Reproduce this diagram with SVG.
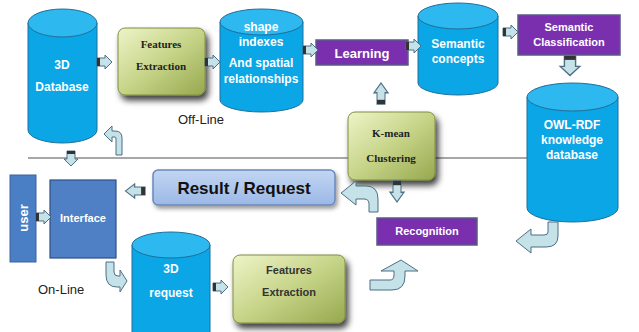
<svg xmlns="http://www.w3.org/2000/svg" width="639" height="332" viewBox="0 0 639 332">
<style>
.cyl{fill:#0aa6e6;stroke:#1f6f9a;stroke-width:1}
.cyltop{fill:#2db8f0;stroke:#1f6f9a;stroke-width:1}
.wt{fill:#fff;font-family:"Liberation Sans",Arial,sans-serif;font-weight:bold;text-anchor:middle}
.gbox{fill:url(#gg);stroke:#7f8f40;stroke-width:1}
.st{fill:#222;font-family:"Liberation Serif","Times New Roman",serif;font-weight:bold;font-size:11px;text-anchor:middle}
.ss{fill:#333;font-family:"Liberation Sans",Arial,sans-serif;font-weight:bold;font-size:11px;text-anchor:middle}
.pbox{fill:#7a2fae;stroke:#5a5a8a;stroke-width:1.5}
.arr{fill:#c5e2e8;stroke:#4d6f85;stroke-width:1}
.tail{fill:#333}
.lbl{fill:#222;font-family:"Liberation Sans",Arial,sans-serif;font-size:13px}
</style>
<defs>
<linearGradient id="gg" x1="0" y1="0" x2="1" y2="1">
<stop offset="0" stop-color="#eef4c8"/>
<stop offset="0.5" stop-color="#c6d488"/>
<stop offset="1" stop-color="#97a84e"/>
</linearGradient>
<linearGradient id="rb" x1="0" y1="0" x2="0" y2="1">
<stop offset="0" stop-color="#c2d6f2"/>
<stop offset="1" stop-color="#9bb8e6"/>
</linearGradient>
<filter id="sh" x="-20%" y="-20%" width="150%" height="160%">
<feDropShadow dx="3" dy="5" stdDeviation="3" flood-color="#000" flood-opacity="0.75"/>
</filter>
<filter id="sh2" x="-20%" y="-20%" width="150%" height="160%">
<feDropShadow dx="2" dy="3" stdDeviation="2" flood-color="#000" flood-opacity="0.4"/>
</filter>
<g id="ra">
<path class="arr" d="M0,-4 H8 V-7 L15,0 L8,7 V4 H0 Z"/>
<rect class="tail" x="0" y="-4" width="3" height="8"/>
</g>
</defs>

<!-- separator line -->
<line x1="28" y1="158" x2="527" y2="158" stroke="#8a8a8a" stroke-width="1.5"/>

<g id="db3d">
<path class="cyl" d="M28,23 L28,130 A34.5,13 0 0 0 97,130 L97,23 Z"/>
<ellipse class="cyltop" cx="62.5" cy="23" rx="34.5" ry="14"/>
<text class="wt" x="62" y="69" font-size="12">3D</text>
<text class="wt" x="62" y="91" font-size="12">Database</text>
</g>

<g id="fe1">
<rect class="gbox" x="118" y="28" width="87" height="67" rx="7" filter="url(#sh)"/>
<text class="st" x="161" y="48">Features</text>
<text class="st" x="161" y="70">Extraction</text>
</g>

<g id="shape">
<path class="cyl" d="M220,22 L220,100 A41.5,12 0 0 0 303,100 L303,22 Z"/>
<ellipse class="cyltop" cx="261.5" cy="22" rx="41.5" ry="13"/>
<text class="wt" x="261" y="31" font-size="12">shape</text>
<text class="wt" x="261" y="46" font-size="12">indexes</text>
<text class="wt" x="261" y="67" font-size="12">And spatial</text>
<text class="wt" x="261" y="83" font-size="12">relationships</text>
</g>

<g id="learning">
<rect class="pbox" x="316" y="40" width="92" height="25"/>
<text class="wt" x="362" y="58" font-size="13">Learning</text>
</g>

<g id="semconcepts">
<path class="cyl" d="M418,16 L418,83 A40,12 0 0 0 498,83 L498,16 Z"/>
<ellipse class="cyltop" cx="458" cy="16" rx="40" ry="13"/>
<text class="wt" x="458" y="48" font-size="12">Semantic</text>
<text class="wt" x="458" y="63" font-size="12">concepts</text>
</g>

<g id="semclass">
<rect class="pbox" x="518" y="15" width="102" height="40"/>
<text class="wt" x="569" y="31" font-size="11">Semantic</text>
<text class="wt" x="569" y="46" font-size="11">Classification</text>
</g>

<g id="owl">
<path class="cyl" d="M527,97 L527,208 A45.5,14 0 0 0 618,208 L618,97 Z"/>
<ellipse class="cyltop" cx="572.5" cy="97" rx="45.5" ry="14"/>
<text class="wt" x="572" y="129" font-size="12">OWL-RDF</text>
<text class="wt" x="572" y="144" font-size="12">knowledge</text>
<text class="wt" x="572" y="159" font-size="12">database</text>
</g>

<g id="kmean">
<rect class="gbox" x="348" y="112" width="87" height="68" rx="7" filter="url(#sh)"/>
<text class="st" x="391" y="137" font-size="12">K-mean</text>
<text class="st" x="391" y="162" font-size="12">Clustering</text>
</g>

<g id="recognition">
<rect class="pbox" x="377" y="218" width="100" height="27"/>
<text class="wt" x="427" y="235" font-size="11">Recognition</text>
</g>

<g id="result">
<rect x="153" y="170" width="182" height="35" rx="5" fill="url(#rb)" stroke="#6a88bd" stroke-width="1.5" filter="url(#sh2)"/>
<text x="244" y="194" font-family="Liberation Sans,Arial,sans-serif" font-weight="bold" font-size="17" fill="#111" text-anchor="middle">Result / Request</text>
</g>

<g id="user">
<rect x="10" y="175" width="26" height="87" fill="#4a7fc6" stroke="#3a62a0" stroke-width="1"/>
<text class="wt" transform="translate(28,218) rotate(-90)" x="0" y="0" font-size="13">user</text>
</g>

<g id="interface">
<rect x="50" y="180" width="66" height="78" fill="#4f80c6" stroke="#2d4f85" stroke-width="1.2"/>
<text class="wt" x="83" y="222" font-size="11">Interface</text>
</g>

<g id="req3d">
<path class="cyl" d="M132,245 L132,340 L210,340 L210,245 Z"/>
<ellipse class="cyltop" cx="171" cy="245" rx="39" ry="13"/>
<text class="wt" x="171" y="273" font-size="12">3D</text>
<text class="wt" x="171" y="297" font-size="12">request</text>
</g>

<g id="fe2">
<rect class="gbox" x="233" y="255" width="112" height="68" rx="7" filter="url(#sh)"/>
<text class="ss" x="289" y="274" font-size="12">Features</text>
<text class="ss" x="289" y="296" font-size="12">Extraction</text>
</g>

<text class="lbl" x="178" y="124">Off-Line</text>
<text class="lbl" x="38" y="294">On-Line</text>

<g id="connectors">
<use href="#ra" transform="translate(97,62)"/>
<use href="#ra" transform="translate(205,62)"/>
<use href="#ra" transform="translate(303,50)"/>
<use href="#ra" transform="translate(406,46)"/>
<use href="#ra" transform="translate(503,32)"/>
<use href="#ra" transform="translate(36,217)"/>
<use href="#ra" transform="translate(213,287)"/>
<!-- down arrows -->
<use href="#ra" transform="translate(570,56) rotate(90) scale(1.3,1.4)"/>
<use href="#ra" transform="translate(71,151) rotate(90)"/>
<use href="#ra" transform="translate(397,181) rotate(90) scale(1.4,1)"/>
<!-- up arrow -->
<use href="#ra" transform="translate(381,104) rotate(-90) scale(1.4,1)"/>
<!-- left arrow -->
<use href="#ra" transform="translate(145,191) rotate(180) scale(1.3,1)"/>
<!-- curved arrows -->
<path class="arr" d="M122,155 L122,138 Q122,131 115,131 L112,131 L112,126 L104,134 L112,142 L112,137 L115,137 Q116,137 116,139 L116,155 Z"/>
<path class="arr" d="M548,222 L548,232 Q548,235 544,235 L531,235 L531,229 L516,241 L531,253 L531,247 L546,247 Q558,247 558,236 L558,222 Z"/>
<path class="arr" d="M378,212 L378,199 Q378,186 366,186 L356,186 L356,181 L341,193 L356,205 L356,199 L364,199 Q369,199 369,204 L369,212 Z"/>
<path class="arr" d="M370,290 L370,280 L390,280 Q394,280 394,275 L394,271 L381,271 L401,260 L418,271 L405,271 L405,276 Q405,290 392,290 Z"/>
<path class="arr" d="M106,262 L106,275 Q106,287 117,287 L120,287 L120,292 L127,281 L120,270 L120,276 L118,276 Q114,276 114,272 L114,262 Z"/>
</g>
</svg>
